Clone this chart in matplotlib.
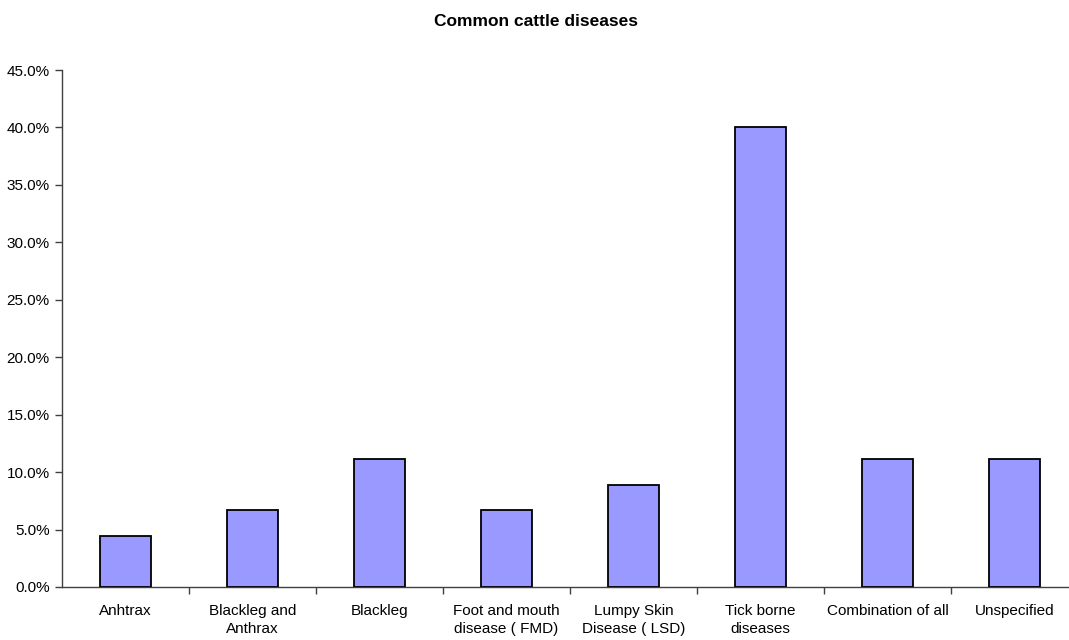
import matplotlib
matplotlib.use("Agg")
import matplotlib.pyplot as plt
from matplotlib.ticker import FuncFormatter, FixedLocator, NullFormatter

plt.rcParams['font.family'] = ['Liberation Sans', 'DejaVu Sans']

categories = ["Anhtrax", "Blackleg and\nAnthrax", "Blackleg", "Foot and mouth\ndisease ( FMD)",
              "Lumpy Skin\nDisease ( LSD)", "Tick borne\ndiseases", "Combination of all", "Unspecified"]
values = [4.4, 6.7, 11.1, 6.7, 8.9, 40.0, 11.1, 11.1]
yticks = [0, 5, 10, 15, 20, 25, 30, 35, 40, 45]

W, H = 1069, 640
fig = plt.figure(figsize=(W / 100, H / 100), dpi=100)
left, right, top, bottom = 62, 1078, 70, 587
ax = fig.add_axes([left / W, 1 - bottom / H, (right - left) / W, (bottom - top) / H])

x = list(range(len(categories)))
ax.bar(x, values, width=0.4, color="#9999FF", edgecolor="black", linewidth=1.3, zorder=3)

ax.set_xlim(-0.5, len(categories) - 0.5)
ax.set_ylim(0, 45)
ax.set_yticks(yticks)
ax.yaxis.set_major_formatter(FuncFormatter(lambda v, p: f"{v:.1f}%"))

ax.set_xticks(x)
ax.set_xticklabels(categories, linespacing=1.38)
ax.tick_params(axis='x', which='major', length=0, pad=12, labelsize=11)
ax.xaxis.set_minor_locator(FixedLocator([i + 0.5 for i in range(len(categories) - 1)]))
ax.xaxis.set_minor_formatter(NullFormatter())
ax.tick_params(axis='x', which='minor', length=5, width=1, color="#404040")
ax.tick_params(axis='y', length=5, width=1, color="#404040", labelsize=11, pad=4)

for s in ['top', 'right']:
    ax.spines[s].set_visible(False)
for s in ['left', 'bottom']:
    ax.spines[s].set_color("#404040")
    ax.spines[s].set_linewidth(1)

fig.text(536 / W, 1 - 21 / H, "Common cattle diseases", ha="center", va="center",
         fontsize=12.5, fontweight="bold")

fig.savefig("out.png", dpi=100)
